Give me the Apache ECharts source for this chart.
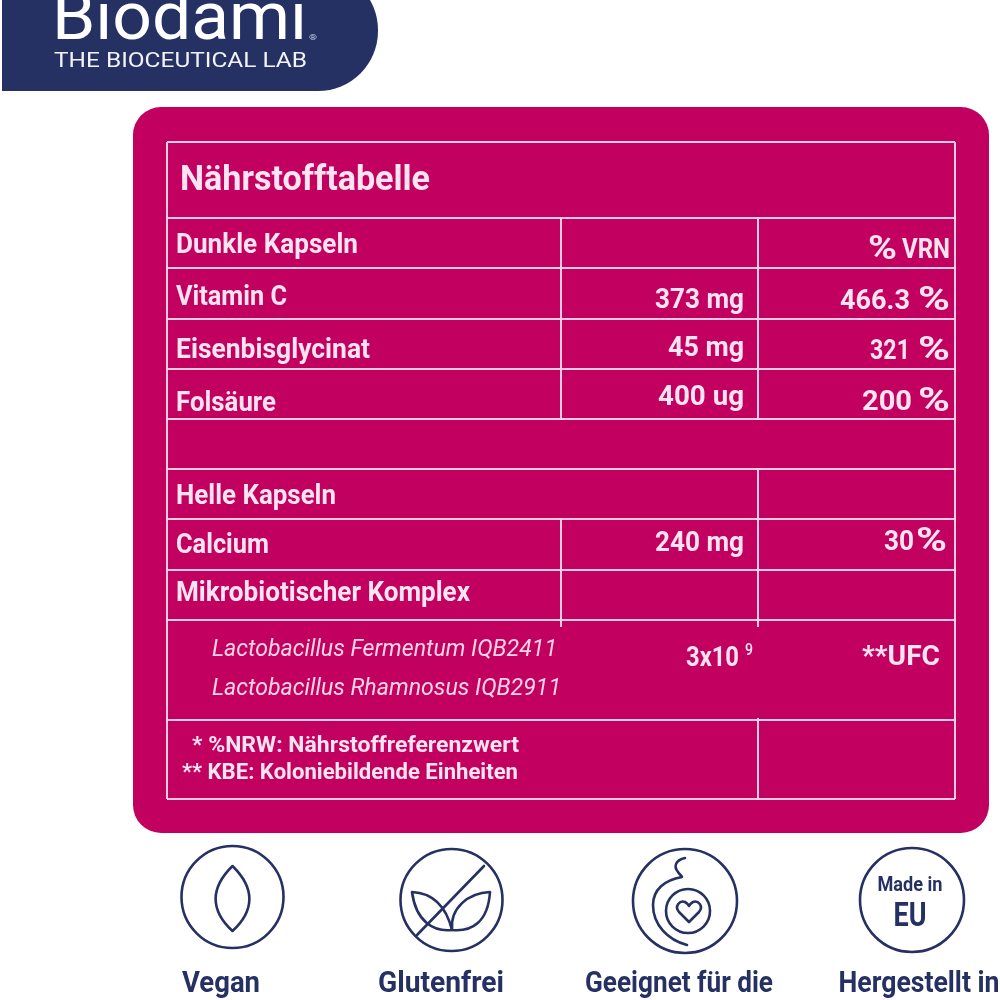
<!DOCTYPE html>
<html>
<head>
<meta charset="utf-8">
<style>html,body{margin:0;padding:0;background:#fff}#main{width:1000px;height:1000px}</style>
<script src="https://cdn.jsdelivr.net/npm/echarts@6/dist/echarts.min.js"></script>
</head>
<body>
<div id="main"></div>
<script>
var chart = echarts.init(document.getElementById('main'));

var brand = 'Biodami';
var tagline = 'THE BIOCEUTICAL LAB';
var tableTitle = 'Nährstofftabelle';
var rowLabels = ['Dunkle Kapseln', 'Vitamin C', 'Eisenbisglycinat', 'Folsäure', 'Helle Kapseln', 'Calcium', 'Mikrobiotischer Komplex'];
var amounts = ['373 mg', '45 mg', '400 ug', '240 mg', '3x10'];
var percents = ['%VRN', '466.3 %', '321 %', '200 %', '30%', '**UFC'];
var strains = ['Lactobacillus Fermentum IQB2411', 'Lactobacillus Rhamnosus IQB2911'];
var footnotes = ['* %NRW: Nährstoffreferenzwert', '** KBE: Koloniebildende Einheiten'];
var badges = ['Vegan', 'Glutenfrei', 'Geeignet für die', 'Hergestellt in'];
var badgesLine2 = ['', '', 'Schwangerschaft', 'Europa'];

var NAVY = '#253163', PINK = '#c2005f', PALE = '#fde4f0', RULE = '#f8cde3';
var FONT = 'Roboto';

// squeeze the text to the width it has in the picture, the font is wider than the original
var ctx = document.createElement('canvas').getContext('2d');
function text(str, x, y, w, size, color, o) {
	o = o || {};
	var weight = o.weight || 700, style = o.style || 'normal', align = o.align || 'left';
	ctx.font = style + ' ' + weight + ' ' + size + 'px ' + FONT;
	return {
		type: 'text', x: x, y: y, scaleX: w / ctx.measureText(str).width, z: 5,
		style: {
			text: str, fill: color, font: ctx.font,
			textAlign: align, textVerticalAlign: 'middle'
		}
	};
}
function line(x1, y1, x2, y2) {
	return {
		type: 'line', z: 3, shape: {x1: x1, y1: y1, x2: x2, y2: y2},
		style: {stroke: RULE, lineWidth: 2}
	};
}
// graphic has no plain path type, each icon outline gets registered as a shape
var pathCount = 0;
function stroke(d) {
	var name = 'iconPath' + (pathCount++);
	echarts.graphic.registerShape(name, echarts.graphic.extendPath(d, {}));
	return {
		type: name, z: 3,
		style: {fill: 'none', stroke: NAVY, lineWidth: 2.6, lineCap: 'round', lineJoin: 'round'}
	};
}
function ring(cx, cy, r) {
	return {
		type: 'circle', z: 3, shape: {cx: cx, cy: cy, r: r},
		style: {fill: 'none', stroke: NAVY, lineWidth: 2.6}
	};
}

var els = [];

// header
els.push({type: 'rect', z: 1, shape: {x: 2, y: -30, width: 376, height: 121, r: [0, 60, 60, 0]}, style: {fill: NAVY}});
els.push(text(brand, 52, 22, 255, 66, '#ffffff', {weight: 400}));
els.push(text(tagline, 54, 62, 253, 20, '#f2f3f8', {weight: 400}));
els.push(text('®', 309, 38, 8, 8, '#cfd3e3', {weight: 400}));

// card and rules
els.push({type: 'rect', z: 1, shape: {x: 133, y: 107, width: 856, height: 726, r: 28}, style: {fill: PINK}});
[142, 218, 268, 319, 369, 419, 469, 519, 570, 620, 720, 799].forEach(function (y) {
	els.push(line(167, y, 955, y));
});
els.push(line(167, 142, 167, 799), line(955, 142, 955, 799));
els.push(line(561, 218, 561, 419), line(561, 519, 561, 627));
els.push(line(758, 218, 758, 419), line(758, 469, 758, 627), line(758, 718, 758, 799));

// table text
els.push(text(tableTitle, 180, 181, 250, 35, PALE));
var labelY = [246, 298, 351, 404, 497, 546, 594];
var labelW = [182, 111, 194, 100, 160, 93, 294];
rowLabels.forEach(function (s, i) {
	els.push(text(s, 176, labelY[i], labelW[i], 28, PALE));
});
var amountY = [301, 349, 398, 544, 659];
var amountW = [89, 76, 86, 89, 53];
var amountR = [744, 744, 744, 744, 739];
amounts.forEach(function (s, i) {
	els.push(text(s, amountR[i], amountY[i], amountW[i], 28, PALE, {align: 'right'}));
});
els.push(text('9', 745, 651, 8, 17, PALE, {weight: 500}));

// the % sign is much wider in the original than the digits, so it is placed on its own
var percentY = [251, 302, 352, 403, 543, 658];
var mainL = [902, 840, 870, 862, 884, 862];
var mainR = [950, 910, 910, 912, 914, 940];
var signL = [868, 918, 918, 918, 916, null];
var signR = [897, 950, 950, 950, 947, null];
percents.forEach(function (s, i) {
	var main = s.replace('%', '').trim();
	els.push(text(main, mainL[i], percentY[i], mainR[i] - mainL[i], 28, PALE));
	if (signL[i] !== null) {
		els.push(text('%', signL[i], percentY[i], signR[i] - signL[i], 33, PALE));
	}
});

var strainY = [650, 689];
var strainW = [345, 349];
strains.forEach(function (s, i) {
	els.push(text(s, 212, strainY[i], strainW[i], 24, '#fbd5e6', {weight: 400, style: 'italic'}));
});
var noteX = [192, 182], noteY = [746, 773], noteW = [327, 336];
footnotes.forEach(function (s, i) {
	els.push(text(s, noteX[i], noteY[i], noteW[i], 22, PALE));
});

// badges
els.push(ring(232.5, 897, 51), ring(451.5, 900, 51), ring(685, 901, 52), ring(912, 900, 52));
els.push(stroke('M232.5 866C210 888 210 910 232.5 931C255 910 255 888 232.5 866Z'));
els.push(stroke('M484 866L417 935'));
els.push(stroke('M412 892C432 893 446 906 452 930C434 932 416 922 412 892Z'));
els.push(stroke('M490 892C468 893 450 908 452 930C472 932 488 922 490 892Z'));
els.push(stroke('M685 858C676 860 673 866 678 872C680 875 682 876 682 877C664 880 653 890 653 905C653 925 668 940 687 945'));
els.push(ring(688, 911, 22));
els.push(stroke('M689 922L679 912C674 906 680 900 685 902C687 903 688 904 689 906C690 904 691 903 693 902C698 900 704 906 699 912Z'));
els.push(text('Made in', 910, 886, 65, 21, NAVY, {align: 'center'}));
els.push(text('EU', 910, 918, 33, 33, NAVY, {align: 'center'}));

var badgeX = [221, 441, 679, 919], badgeW = [78, 126, 188, 161];
badges.forEach(function (s, i) {
	els.push(text(s, badgeX[i], 985, badgeW[i], 29, NAVY, {align: 'center'}));
});
var line2W = [0, 0, 204, 84];
badgesLine2.forEach(function (s, i) {
	if (s) els.push(text(s, badgeX[i], 1017, line2W[i], 29, NAVY, {align: 'center'}));
});

chart.setOption({
	backgroundColor: '#ffffff',
	animation: false,
	graphic: {elements: els}
});
</script>
</body>
</html>
